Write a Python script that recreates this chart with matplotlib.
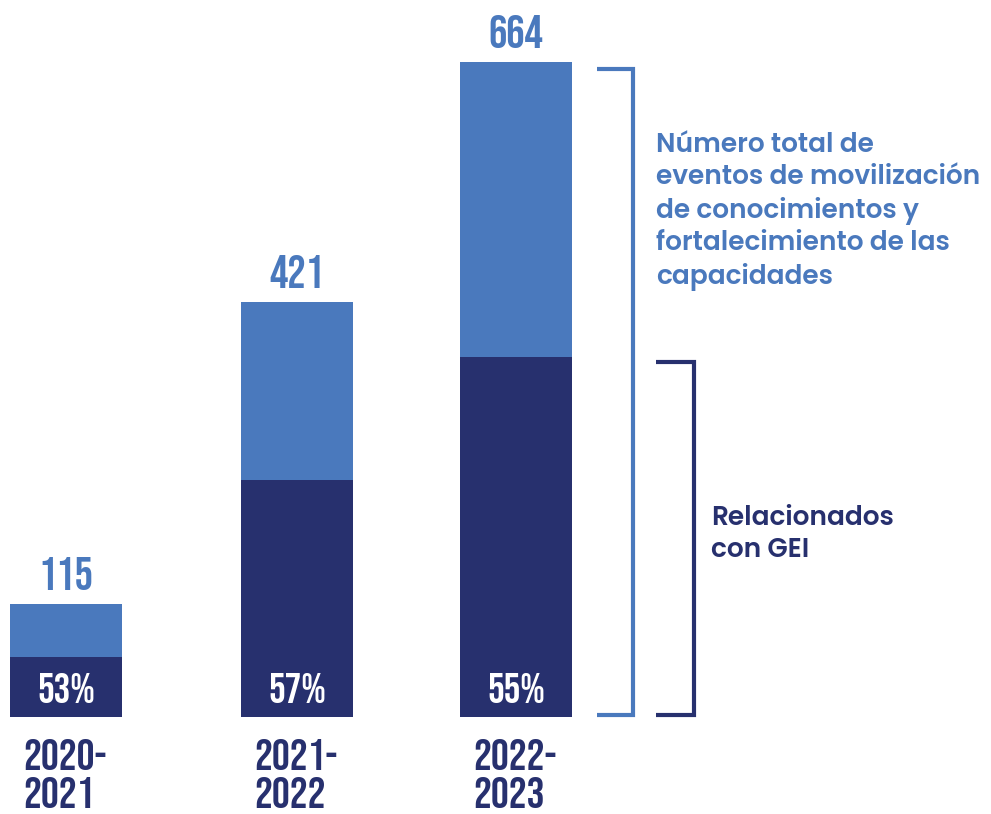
import matplotlib
matplotlib.use("Agg")
import matplotlib.pyplot as plt
from matplotlib import font_manager

LIGHT = "#4a79bd"
DARK = "#27306e"

periods = ["2020-\n2021", "2021-\n2022", "2022-\n2023"]
totals = [115, 421, 664]
gei_share = [53, 57, 55]

W, H = 991, 814
BASE_PX = 717          # baseline of bars, pixels from top
PX_PER_UNIT = 0.986
centers = [66, 297, 516]
width = 112

names = {f.name for f in font_manager.fontManager.ttflist}


def pick(*cands):
    for c in cands:
        if c in names:
            return c
    return "DejaVu Sans"


NARROW = pick("Bebas Neue", "Oswald", "Roboto Condensed", "Liberation Sans Narrow")
LABEL_FONT = pick("Poppins", "Open Sans")

fig = plt.figure(figsize=(W / 100, H / 100), dpi=100)
ax = fig.add_axes([0, 0, 1, 1])
ax.set_xlim(0, W)
ax.set_ylim(-(H - BASE_PX) / PX_PER_UNIT, BASE_PX / PX_PER_UNIT)
ax.axis("off")

gei = [t * s / 100 for t, s in zip(totals, gei_share)]
rest = [t - g for t, g in zip(totals, gei)]

ax.bar(centers, gei, width=width, color=DARK)
ax.bar(centers, rest, bottom=gei, width=width, color=LIGHT)

for x, t, s, lab in zip(centers, totals, gei_share, periods):
    ax.annotate(str(t), (x, t), xytext=(0, 14), textcoords="offset pixels",
                ha="center", va="bottom", color=LIGHT, fontsize=33,
                family=NARROW)
    ax.annotate(f"{s}%", (x, 0), xytext=(0, 14), textcoords="offset pixels",
                ha="center", va="bottom", color="white", fontsize=30,
                family=NARROW)
    ax.annotate(lab, (x - width / 2, 0), xytext=(13, -22), textcoords="offset pixels",
                ha="left", va="top", color=DARK, fontsize=32, linespacing=1.22,
                family=NARROW)


def py(p):
    # pixel row from top -> data y
    return (BASE_PX - p) / PX_PER_UNIT


# brackets
ax.plot([597, 633, 633, 597], [py(69), py(69), py(715), py(715)],
        color=LIGHT, lw=3, solid_joinstyle="miter", solid_capstyle="butt")
ax.plot([656, 694, 694, 656], [py(362), py(362), py(715), py(715)],
        color=DARK, lw=3, solid_joinstyle="miter", solid_capstyle="butt")

ax.text(656, py(132), "Número total de\neventos de movilización\nde conocimientos y\n"
        "fortalecimiento de las\ncapacidades",
        ha="left", va="top", color=LIGHT, fontsize=19, weight="semibold",
        family=LABEL_FONT, linespacing=1.27)
ax.text(711, py(505), "Relacionados\ncon GEI",
        ha="left", va="top", color=DARK, fontsize=19, weight="semibold",
        family=LABEL_FONT, linespacing=1.27)

fig.savefig("out.png", dpi=100)
